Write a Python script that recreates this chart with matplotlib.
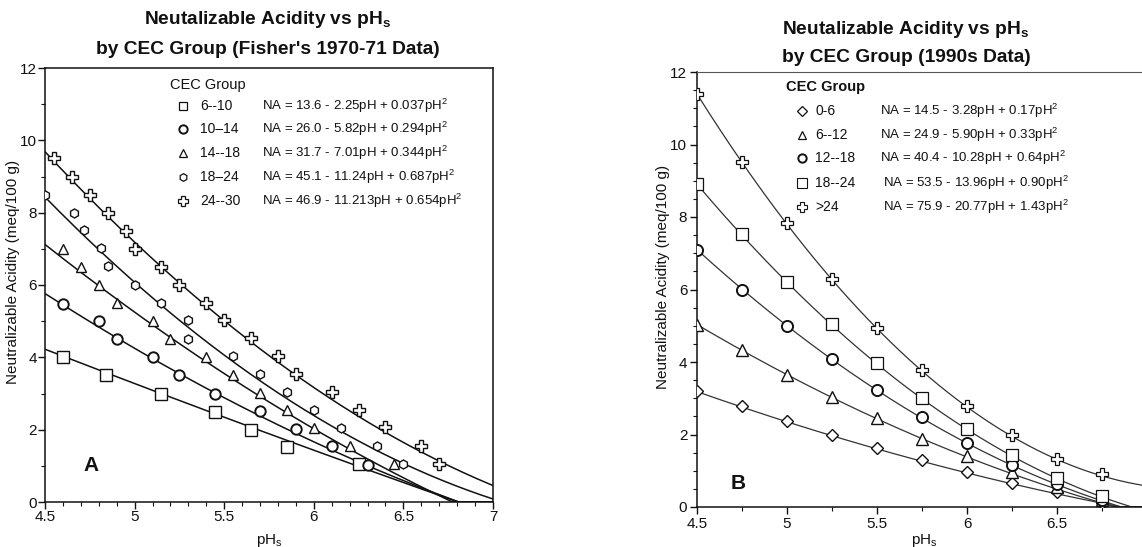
import numpy as np
import matplotlib
matplotlib.use("Agg")
import matplotlib.pyplot as plt
from matplotlib.ticker import MultipleLocator

plt.rcParams['font.family'] = ['Liberation Sans', 'DejaVu Sans']
plt.rcParams['mathtext.fontset'] = 'custom'
plt.rcParams['mathtext.rm'] = 'Liberation Sans'
plt.rcParams['mathtext.it'] = 'Liberation Sans:italic'
plt.rcParams['mathtext.bf'] = 'Liberation Sans:bold'

# ---------------- Panel A data (Fisher's 1970-71) ----------------
a_groups = ["6--10", "10\u201314", "14--18", "18\u201324", "24--30"]
a_equations = ["NA = 13.6 - 2.25pH + 0.037pH$^2$",
               "NA = 26.0 - 5.82pH + 0.294pH$^2$",
               "NA = 31.7 - 7.01pH + 0.344pH$^2$",
               "NA = 45.1 - 11.24pH + 0.687pH$^2$",
               "NA = 46.9 - 11.213pH + 0.654pH$^2$"]
a_c0 = [13.6, 26.0, 31.7, 45.1, 46.9]
a_c1 = [-2.25, -5.82, -7.01, -11.24, -11.213]
a_c2 = [0.037, 0.294, 0.344, 0.687, 0.654]

a_x_sq = [4.60, 4.84, 5.15, 5.45, 5.65, 5.85, 6.25]
a_y_sq = [4.00, 3.50, 3.00, 2.50, 2.00, 1.52, 1.04]
a_x_ci = [4.60, 4.80, 4.90, 5.10, 5.25, 5.45, 5.70, 5.90, 6.10, 6.30]
a_y_ci = [5.48, 5.00, 4.50, 4.00, 3.50, 3.00, 2.52, 2.02, 1.54, 1.03]
a_x_tr = [4.60, 4.70, 4.80, 4.90, 5.10, 5.20, 5.40, 5.55, 5.70, 5.85, 6.00, 6.20, 6.45]
a_y_tr = [7.00, 6.50, 6.00, 5.50, 5.00, 4.50, 4.00, 3.50, 3.02, 2.53, 2.04, 1.55, 1.05]
a_x_di = [4.50, 4.66, 4.72, 4.81, 4.85, 5.00, 5.15, 5.30, 5.30, 5.55, 5.70, 5.85, 6.00, 6.15, 6.35, 6.50]
a_y_di = [8.50, 8.00, 7.52, 7.03, 6.52, 6.00, 5.50, 5.02, 4.52, 4.03, 3.53, 3.05, 2.55, 2.05, 1.55, 1.06]
a_x_pl = [4.55, 4.65, 4.75, 4.85, 4.95, 5.00, 5.15, 5.25, 5.40, 5.50, 5.65, 5.80, 5.90, 6.10, 6.25, 6.40, 6.60, 6.70]
a_y_pl = [9.50, 9.00, 8.50, 8.00, 7.50, 7.00, 6.50, 6.00, 5.50, 5.02, 4.53, 4.04, 3.55, 3.05, 2.55, 2.06, 1.56, 1.06]

# ---------------- Panel B data (1990s) ----------------
b_groups = ["0-6", "6--12", "12--18", "18--24", ">24"]
b_equations = ["NA = 14.5 - 3.28pH + 0.17pH$^2$",
               "NA = 24.9 - 5.90pH + 0.33pH$^2$",
               "NA = 40.4 - 10.28pH + 0.64pH$^2$",
               "NA = 53.5 - 13.96pH + 0.90pH$^2$",
               "NA = 75.9 - 20.77pH + 1.43pH$^2$"]
b_c0 = [14.5, 24.9, 40.4, 53.5, 75.9]
b_c1 = [-3.28, -5.90, -10.28, -13.96, -20.77]
b_c2 = [0.17, 0.33, 0.64, 0.90, 1.43]
b_x = [4.5, 4.75, 5.0, 5.25, 5.5, 5.75, 6.0, 6.25, 6.5, 6.75]
b_y_di = [3.19, 2.78, 2.36, 1.99, 1.63, 1.29, 0.97, 0.67, 0.41, 0.10]
b_y_tr = [5.02, 4.32, 3.65, 3.03, 2.45, 1.88, 1.40, 0.97, 0.55, 0.18]
b_y_ci = [7.10, 6.00, 5.00, 4.09, 3.24, 2.48, 1.77, 1.17, 0.64, 0.18]
b_y_sq = [8.90, 7.52, 6.22, 5.04, 3.97, 3.00, 2.16, 1.44, 0.81, 0.29]
b_y_pl = [11.40, 9.52, 7.83, 6.30, 4.95, 3.79, 2.80, 1.99, 1.33, 0.90]

W, H = 1142, 547
fig = plt.figure(figsize=(W / 100, H / 100), dpi=100)


def box(l, t, r, b):
    return [l / W, 1 - b / H, (r - l) / W, (b - t) / H]


def fx(x):
    return x / W


def fy(y):
    return 1 - y / H


ink = '#111111'
TICK = 11
TITLE = 13.8
EQ = 9.5

# ---------------- Panel A ----------------
axA = fig.add_axes(box(45, 68, 493, 502))
xs = np.linspace(4.5, 7.0, 300)
for c0, c1, c2 in zip(a_c0, a_c1, a_c2):
    axA.plot(xs, np.clip(c0 + c1 * xs + c2 * xs ** 2, 0, None), color=ink, lw=1.1, zorder=2)

mk = dict(linestyle='none', mfc='white', mec=ink, zorder=3)
axA.plot(a_x_sq, a_y_sq, marker='s', ms=8, mew=1.0, **mk)
axA.plot(a_x_ci, a_y_ci, marker='o', ms=7.5, mew=1.4, **mk)
axA.plot(a_x_tr, a_y_tr, marker='^', ms=7.5, mew=1.0, **mk)
axA.plot(a_x_di, a_y_di, marker='h', ms=6.5, mew=1.0, **mk)
axA.plot(a_x_pl, a_y_pl, marker='P', ms=8.5, mew=1.0, **mk)

axA.set_xlim(4.5, 7.0)
axA.set_ylim(0, 12)
axA.xaxis.set_minor_locator(MultipleLocator(0.1))
axA.yaxis.set_major_locator(MultipleLocator(2))
axA.yaxis.set_minor_locator(MultipleLocator(1))
axA.set_xticks([4.5, 5, 5.5, 6, 6.5, 7])
axA.set_xticklabels(['4.5', '5', '5.5', '6', '6.5', '7'])
axA.tick_params(which='major', length=5, width=1.0, labelsize=TICK, colors=ink, pad=1)
axA.tick_params(which='minor', length=3, width=0.8, colors=ink)
for s in axA.spines.values():
    s.set_linewidth(1.1)
    s.set_color(ink)
axA.set_ylabel('Neutralizable Acidity (meq/100 g)', fontsize=11, color=ink)
axA.yaxis.set_label_coords(-0.056, 0.53)
axA.set_xlabel('pH$_\\mathregular{s}$', fontsize=11, color=ink)
axA.xaxis.set_label_coords(0.5, -0.068)
axA.text(0.085, 0.085, 'A', transform=axA.transAxes, fontsize=15, fontweight='bold',
         color=ink, va='center')

fig.text(fx(268), fy(20), 'Neutalizable Acidity vs pH$_\\mathbf{s}$', ha='center', va='center',
         fontsize=TITLE, fontweight='bold', color=ink)
fig.text(fx(268), fy(49), "by CEC Group (Fisher's 1970-71 Data)", ha='center', va='center',
         fontsize=TITLE, fontweight='bold', color=ink)

# legend A
fig.text(fx(170), fy(85), 'CEC Group', ha='left', va='center', fontsize=10.5, color=ink)
a_rows = [106, 129, 153, 177, 201]
a_mk = [('s', 6, 0.9), ('o', 6, 1.4), ('^', 6, 0.9), ('h', 5.5, 0.9), ('P', 7, 0.9)]
for yy, g, eq, (m, ms, mw) in zip(a_rows, a_groups, a_equations, a_mk):
    fig.add_artist(plt.Line2D([fx(183)], [fy(yy)], marker=m, ms=ms, mew=mw, mfc='white',
                              mec=ink, linestyle='none', transform=fig.transFigure))
    fig.text(fx(200), fy(yy), g, ha='left', va='center', fontsize=10, color=ink)
    fig.text(fx(262), fy(yy), eq, ha='left', va='center', fontsize=EQ, color=ink)

# ---------------- Panel B ----------------
axB = fig.add_axes(box(697, 72, 1147, 507))
for c0, c1, c2 in zip(b_c0, b_c1, b_c2):
    axB.plot(xs, np.clip(c0 + c1 * xs + c2 * xs ** 2, 0, None), color='#333333', lw=0.9, zorder=2)
axB.plot(b_x, b_y_di, marker='D', ms=6, mew=1.0, **mk)
axB.plot(b_x, b_y_tr, marker='^', ms=8, mew=1.0, **mk)
axB.plot(b_x, b_y_ci, marker='o', ms=8, mew=1.4, **mk)
axB.plot(b_x, b_y_sq, marker='s', ms=9, mew=0.9, **mk)
axB.plot(b_x, b_y_pl, marker='P', ms=8, mew=0.9, **mk)

axB.set_xlim(4.5, 7.0)
axB.set_ylim(0, 12)
axB.set_xticks([4.5, 5, 5.5, 6, 6.5])
axB.set_xticklabels(['4.5', '5', '5.5', '6', '6.5'])
axB.xaxis.set_minor_locator(MultipleLocator(0.25))
axB.yaxis.set_major_locator(MultipleLocator(2))
axB.yaxis.set_minor_locator(MultipleLocator(0.5))
axB.tick_params(which='major', length=5, width=1.0, labelsize=TICK, colors=ink, pad=2)
axB.tick_params(which='minor', length=3, width=0.8, colors=ink)
for s in axB.spines.values():
    s.set_linewidth(1.1)
    s.set_color(ink)
axB.spines['top'].set_linewidth(0.8)
axB.spines['top'].set_color('#555555')
axB.spines['right'].set_visible(False)
axB.set_ylabel('Neutralizable Acidity (meq/100 g)', fontsize=11, color=ink)
axB.yaxis.set_label_coords(-0.06, 0.53)
axB.set_xlabel('pH$_\\mathregular{s}$', fontsize=11, color=ink)
axB.xaxis.set_label_coords(0.505, -0.058)
axB.text(0.075, 0.055, 'B', transform=axB.transAxes, fontsize=15, fontweight='bold',
         color=ink, va='center')

fig.text(fx(906), fy(29), 'Neutalizable Acidity vs pH$_\\mathbf{s}$', ha='center', va='center',
         fontsize=TITLE, fontweight='bold', color=ink)
fig.text(fx(906), fy(57), 'by CEC Group (1990s Data)', ha='center', va='center',
         fontsize=TITLE, fontweight='bold', color=ink)

fig.text(fx(786), fy(87), 'CEC Group', ha='left', va='center', fontsize=10.5,
         fontweight='bold', color=ink)
b_rows = [111, 135, 158, 183, 207]
b_mk = [('D', 5, 0.9), ('^', 6, 0.9), ('o', 6, 1.4), ('s', 6.5, 0.8), ('P', 6.5, 0.8)]
b_eqx = [880, 880, 880, 883, 883]
for yy, g, eq, ex, (m, ms, mw) in zip(b_rows, b_groups, b_equations, b_eqx, b_mk):
    fig.add_artist(plt.Line2D([fx(802)], [fy(yy)], marker=m, ms=ms, mew=mw, mfc='white',
                              mec=ink, linestyle='none', transform=fig.transFigure))
    fig.text(fx(815), fy(yy), g, ha='left', va='center', fontsize=10, color=ink)
    fig.text(fx(ex), fy(yy), eq, ha='left', va='center', fontsize=EQ, color=ink)

fig.savefig('out.png', dpi=100)
